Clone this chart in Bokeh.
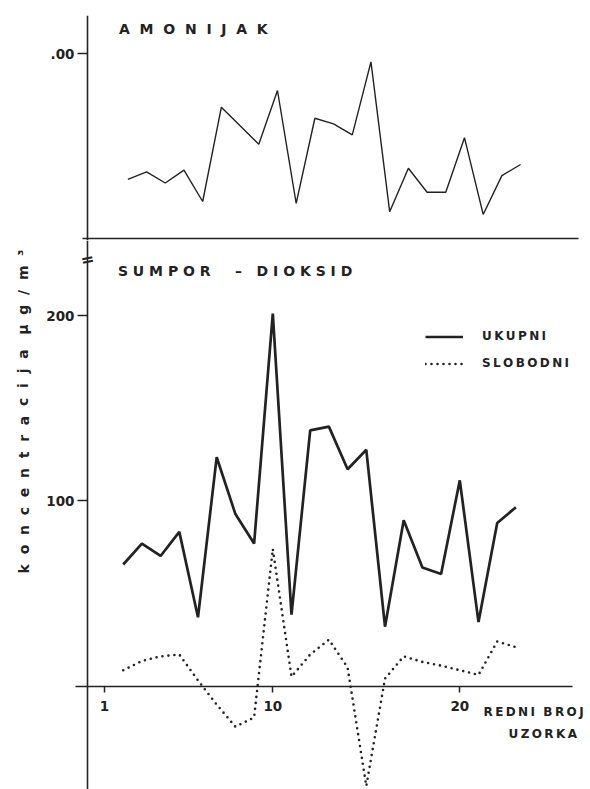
from bokeh.plotting import figure
from bokeh.models import Range1d, FixedTicker, Label, Legend, LegendItem, LinearAxis
from bokeh.layouts import column
from bokeh.embed import file_html
from bokeh.resources import INLINE

# ---------------- data ----------------
samples = list(range(2, 24))
amonijak = [0.32, 0.36, 0.30, 0.37, 0.20, 0.71, 0.61, 0.51, 0.80, 0.19, 0.65,
            0.62, 0.56, 0.955, 0.145, 0.38, 0.25, 0.25, 0.545, 0.13, 0.34, 0.40]
ukupni = [65.6, 76.9, 70.2, 83.2, 37.1, 123.5, 92.8, 76.9, 201.0, 38.5, 138.0,
          140.0, 117.0, 127.5, 32.0, 89.5, 64.0, 60.5, 111.0, 34.5, 88.0, 96.5]
slobodni = [8.5, 13.5, 16.0, 17.0, 3.0, -10.0, -22.0, -17.0, 74.0, 5.0, 17.0,
            25.0, 10.0, -54.0, 4.0, 16.0, 13.0, 11.0, 8.5, 6.0, 24.0, 21.0]
x_ticks = [1, 10, 20]
x_tick_labels = ["1", "10", "20"]
so2_ticks = [100, 200]
so2_tick_labels = ["100", "200"]
nh3_ticks = [1]
nh3_tick_labels = [".00"]

# ---------------- geometry / style ----------------
W = 590
AX_LEFT = 87          # page x of the vertical axis
X1_PX = 104           # page x of sample 1
PX = 18.7             # px per sample
ZERO_LO = 685.5       # page y of SO2 zero line
PY_LO = 1.8525        # px per ug/m3
ZERO_UP = 238.0       # page y of NH3 axis
PY_UP = 185.0         # px per unit (tick .00)
UP_H = 240
LO_H = 549
UP_SHIFT = 0.25

FONT = "DejaVu Sans"
INK = "#222222"
NB = "\u00a0"
TH = "\u2009"


def spaced(s, sep):
    return sep.join(s)


def style_axis(ax, size="13.5px"):
    ax.axis_line_color = INK
    ax.axis_line_width = 1.6
    ax.major_tick_line_color = INK
    ax.major_tick_line_width = 1.5
    ax.minor_tick_line_color = None
    ax.major_tick_in = 0
    ax.major_label_text_font = FONT
    ax.major_label_text_font_size = size
    ax.major_label_text_font_style = "bold"
    ax.major_label_text_color = INK


def base_fig(height, x_start, y_range, top):
    p = figure(width=W, height=height,
               x_range=Range1d(x_start, x_start + W / PX), y_range=y_range,
               output_backend="svg", toolbar_location=None,
               x_axis_location=None, y_axis_location=None,
               min_border_left=0, min_border_right=0,
               min_border_top=top, min_border_bottom=0)
    p.outline_line_color = None
    p.grid.visible = False
    p.background_fill_color = "white"
    p.border_fill_color = "white"
    return p


# ---------------- upper panel: AMONIJAK ----------------
ux0 = 1 - X1_PX / PX - UP_SHIFT


def ux(px):
    return ux0 + px / PX


def uy(py):
    return (ZERO_UP - py) / PY_UP


up = base_fig(UP_H, ux0, Range1d(uy(UP_H), uy(15)), 15)

uy_ax = LinearAxis(ticker=FixedTicker(ticks=nh3_ticks), fixed_location=ux(AX_LEFT),
                   major_label_overrides=dict(zip(nh3_ticks, nh3_tick_labels)))
style_axis(uy_ax)
uy_ax.major_tick_out = 10
uy_ax.major_label_standoff = 3
up.add_layout(uy_ax, "left")

ux_ax = LinearAxis(ticker=FixedTicker(ticks=[]), fixed_location=0,
                   bounds=(ux(82), ux(578)))
style_axis(ux_ax)
ux_ax.major_tick_out = 0
up.add_layout(ux_ax, "below")

up.line(samples, amonijak, line_color=INK, line_width=1.4)

up.add_layout(Label(x=ux(118.5), y=uy(28.7), text=spaced("AMONIJAK", NB * 2),
                    text_font=FONT, text_font_size="14px", text_font_style="bold",
                    text_color=INK, text_align="left", text_baseline="middle"))

# ---------------- lower panel: SUMPOR - DIOKSID ----------------
lx0 = 1 - X1_PX / PX


def lx(px):
    return lx0 + px / PX


def ly(py):
    return (ZERO_LO - py) / PY_LO


lo = base_fig(LO_H, lx0, Range1d(ly(789), ly(UP_H)), 0)

ly_ax = LinearAxis(ticker=FixedTicker(ticks=so2_ticks), fixed_location=lx(AX_LEFT),
                   major_label_overrides=dict(zip(so2_ticks, so2_tick_labels)))
style_axis(ly_ax)
ly_ax.major_tick_out = 10
ly_ax.major_label_standoff = 3
lo.add_layout(ly_ax, "left")

lx_ax = LinearAxis(ticker=FixedTicker(ticks=x_ticks), fixed_location=0,
                   bounds=(lx(75), lx(572)),
                   major_label_overrides=dict(zip(x_ticks, x_tick_labels)))
style_axis(lx_ax)
lx_ax.major_tick_out = 6
lx_ax.major_label_standoff = 9
lo.add_layout(lx_ax, "below")

r_uk = lo.line(samples, ukupni, line_color=INK, line_width=2.7)
r_sl = lo.line(samples, slobodni, line_color=INK, line_width=2.6,
               line_dash="0 6", line_cap="round")

legend = Legend(items=[LegendItem(label=spaced("UKUPNI", TH), renderers=[r_uk]),
                       LegendItem(label=spaced("SLOBODNI", TH), renderers=[r_sl])],
                location=(425, 789 - 375.5),
                glyph_width=38, glyph_height=25, label_height=25, spacing=2,
                label_standoff=19, padding=0, margin=0,
                border_line_color=None, background_fill_alpha=0,
                label_text_font=FONT, label_text_font_size="12px",
                label_text_font_style="bold", label_text_color=INK)
lo.add_layout(legend)

title2 = spaced("SUMPOR", NB) + NB * 5 + "\u2013" + NB * 3 + spaced("DIOKSID", NB)
lo.add_layout(Label(x=lx(117.4), y=ly(270.7), text=title2,
                    text_font=FONT, text_font_size="14px", text_font_style="bold",
                    text_color=INK, text_align="left", text_baseline="middle"))

lo.add_layout(Label(x=lx(483), y=ly(711), text=spaced("REDNI", TH) + NB * 2 + spaced("BROJ", TH),
                    text_font=FONT, text_font_size="12px", text_font_style="bold",
                    text_color=INK, text_align="left", text_baseline="middle"))
lo.add_layout(Label(x=lx(508), y=ly(733), text=spaced("UZORKA", TH),
                    text_font=FONT, text_font_size="12px", text_font_style="bold",
                    text_color=INK, text_align="left", text_baseline="middle"))

ylabel = spaced("koncentracija", NB * 2) + NB * 3 + spaced("\u00b5g/m\u00b3", NB * 2)
lo.add_layout(Label(x=lx(23), y=ly(411), text=ylabel, angle=1.5708,
                    text_font=FONT, text_font_size="14px", text_font_style="bold",
                    text_color=INK, text_align="center", text_baseline="middle"))

# axis break mark
lo.add_layout(Label(x=lx(AX_LEFT), y=ly(259), text="=", angle=0.2,
                    text_font=FONT, text_font_size="16px", text_font_style="bold",
                    text_color=INK, text_align="center", text_baseline="middle"))

page = column(up, lo)
open("out.html", "w").write(file_html(page, INLINE))
